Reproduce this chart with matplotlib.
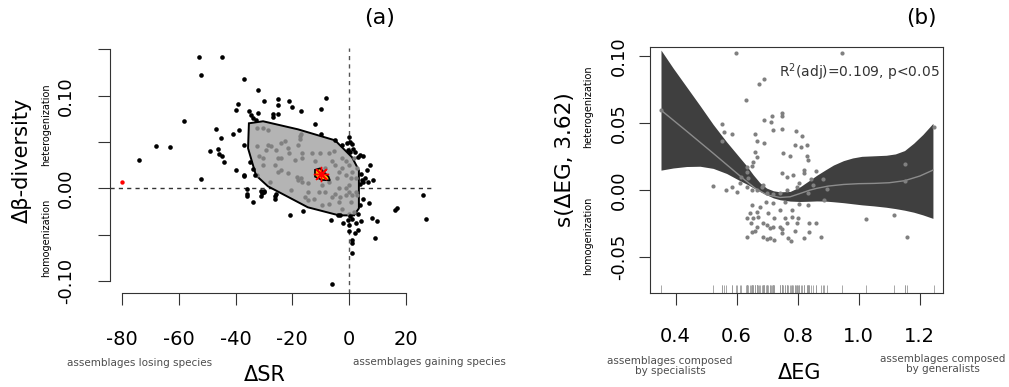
import numpy as np
import matplotlib
matplotlib.use("Agg")
import matplotlib.pyplot as plt

plt.rcParams['font.family'] = ['DejaVu Sans']

# ---------------- panel (a): bagplot of dSR vs d beta-diversity ----------------
# points outside the bag (black)
out_x = [-52.9, -44.9, -52.1, -37.0, -32.0, -58.1, -74.0, -68.1, -63.1, -52.1,
         -49.0, -46.1, -45.7, -44.1, -47.0, -45.0, -40.8, -40.0, -39.0, -38.9,
         -40.0, -36.9, -36.9, -30.0, -25.0, -25.1, -26.8, -26.9, -24.9, -21.1,
         -20.0, -16.9, -10.0, -8.1, -35.2, -34.7, -32.0, -34.0, -32.8, -36.1,
         -35.9, -34.0, -30.8, -30.0, -31.1, -26.0, -26.0, -20.9, -16.1, -6.0,
         -6.2, -3.9, -12.0, -9.9, 0.1, 0.35, -0.8, 0.95, -4.9, -2.6,
         -0.2, 0.35, 1.5, 2.1, 3.9, 5.0, 3.3, 7.4, 6.2, 4.1,
         5.6, 4.5, 8.4, 6.8, 3.9, 5.0, 26.2, 16.8, 16.2, 27.2,
         -2.0, 5.0, 7.1, 3.9, 3.3, 4.2, 0.35, -0.2, 0.1, 0.0,
         2.1, 3.3, 0.95, 1.2, 0.95, 8.0, 9.9, 9.2, -3.2, -44.9,
         -34.9, -33.7, -33.1, -36.1, -31.0, -29.9, -25.9, -36.9, 1.0, 2.5]
out_y = [0.1415, 0.1415, 0.122, 0.1177, 0.1058, 0.0727, 0.031, 0.0457, 0.0446, 0.0105,
         0.040, 0.0424, 0.0375, 0.0284, 0.0645, 0.054, 0.059, 0.0842, 0.091, 0.0634,
         0.0202, 0.014, 0.0464, 0.0943, 0.0961, 0.0896, 0.0799, 0.077, 0.0807, 0.0943,
         0.0878, 0.0832, 0.0856, 0.098, 0.0832, 0.0788, 0.0817, 0.0759, 0.0742, -0.0011,
         -0.0057, -0.0148, -0.0046, -0.0029, -0.0086, -0.0086, -0.0111, -0.0284, -0.0245, -0.1033,
         -0.0346, -0.0292, 0.0699, 0.0583, 0.0555, 0.050, 0.0489, 0.0482, 0.0518, 0.0464,
         0.041, 0.0392, 0.0428, 0.0392, 0.0356, 0.0346, 0.0338, 0.0248, 0.0202, 0.0151,
         0.0115, 0.0086, 0.0086, 0.0068, 0.0051, 0.0068, -0.0068, -0.0209, -0.0230, -0.0335,
         -0.0375, -0.0111, -0.0155, -0.0184, -0.0281, -0.0353, -0.0302, -0.0338, -0.0400, -0.0461,
         -0.0479, -0.0446, -0.0562, -0.0587, -0.0699, -0.0317, -0.0353, -0.0533, -0.0292, 0.0346,
         0.0284, 0.0213, 0.0140, -0.0086, -0.0029, -0.0040, -0.0057, 0.0137, -0.033, -0.037]

# points inside the bag (grey)
in_x = [-32.4, -30.4, -28.4, -27.4, -25.6, -25.0, -23.9, -22.7, -21.5, -21.2,
        -25.0, -26.2, -21.5, -18.5, -17.9, -16.9, -16.7, -14.3, -15.5, -14.3,
        -11.9, -13.1, -10.1, -7.2, -6.0, -5.4, -4.8, -3.6, -2.4, -1.2,
        -1.2, 0.0, 0.6, 1.2, 2.4, 0.0, -1.2, -3.6, -4.8, -6.0,
        -3.0, -1.2, 0.0, 1.2, 2.4, 0.6, -3.6, -7.2, -9.5, -14.3,
        -17.3, -17.3, -16.9, -17.9, -32.4, -31.6, -28.0, -23.9, -19.1, -16.7,
        -10.7, -8.3, -7.2, -9.5, 3.0, 1.8, 0.0, -2.4, -4.2, 0.0,
        1.8, 3.0, -2.4, -8.3, -16.7, -23.9, -29.2, -30.4, -20.3, -12.5,
        -30.4, -28.4, -32.4]
in_y = [0.0455, 0.0327, 0.0473, 0.0455, 0.0418, 0.0327, 0.0491, 0.0509, 0.0436, 0.0382,
        0.0181, 0.0254, 0.0163, 0.0126, 0.0090, 0.0108, 0.0072, 0.0053, -0.0093, -0.0129,
        0.0290, 0.0382, 0.0382, 0.0382, 0.0290, 0.0400, 0.0254, 0.0181, 0.0217, 0.0290,
        0.0144, 0.0254, 0.0108, 0.0181, 0.0108, 0.0035, -0.0001, -0.0001, -0.0056, -0.0093,
        -0.0093, -0.0074, -0.0038, -0.0074, -0.0038, -0.0147, -0.0147, -0.0166, -0.0184, -0.0038,
        0.0564, 0.0528, 0.0582, 0.0473, 0.0145, 0.0345, 0.0072, 0.0199, 0.0309, 0.0382,
        -0.0038, -0.0038, 0.0072, 0.0035, -0.0074, -0.0257, -0.0275, -0.0220, 0.0108, 0.0418,
        0.0327, 0.0217, 0.0327, 0.0217, 0.0327, 0.0327, 0.0418, 0.0254, -0.0020, -0.0111,
        0.0655, 0.0626, 0.0655]

outlier_x = [-80.0]
outlier_y = [0.0068]

bag_x = [-35.3, -30.3, -18.0, -4.9, 1.1, 3.5, 3.5, 3.5, 1.8, -3.5, -14.5, -28.6, -32.8, -35.6]
bag_y = [0.0702, 0.0724, 0.0637, 0.0518, 0.0335, 0.0194, -0.002, -0.0216, -0.0292, -0.0292,
         -0.0205, 0.0022, 0.014, 0.0432]

center_poly_x = [-12.0, -10.2, -7.2, -6.7, -9.6, -12.0]
center_poly_y = [0.020, 0.0216, 0.0126, 0.0086, 0.009, 0.0126]
center_x, center_y = -10.0, 0.0150

# ---------------- panel (b): GAM smooth of dEG ----------------
fit_x = [0.352, 0.436, 0.523, 0.589, 0.627, 0.660, 0.698, 0.742, 0.775, 0.808,
         0.840, 0.862, 0.900, 0.950, 1.000, 1.050, 1.100, 1.150, 1.200, 1.243]
fit_y = [0.0597, 0.0440, 0.0275, 0.0148, 0.0075, 0.0015, -0.0035, -0.0055, -0.0050, -0.0025,
         0.0000, 0.0013, 0.0030, 0.0042, 0.0048, 0.0050, 0.0055, 0.0070, 0.0105, 0.0149]

band_x = [0.352, 0.392, 0.436, 0.480, 0.523, 0.567, 0.611, 0.633, 0.654, 0.676,
          0.698, 0.720, 0.742, 0.775, 0.808, 0.840, 0.862, 0.890, 0.917, 0.950,
          0.980, 1.010, 1.050, 1.090, 1.120, 1.150, 1.180, 1.210, 1.243]
band_hi = [0.1045, 0.0910, 0.0770, 0.0630, 0.0490, 0.0360, 0.0240, 0.0180, 0.0115, 0.0055,
           0.0015, -0.0005, -0.0013, -0.0010, 0.0025, 0.0075, 0.0110, 0.0150, 0.0187, 0.0220,
           0.0240, 0.0252, 0.0256, 0.0260, 0.0270, 0.0295, 0.0350, 0.0415, 0.0498]
band_lo = [0.0149, 0.0165, 0.0176, 0.0178, 0.0162, 0.0124, 0.0070, 0.0045, 0.0018, -0.0010,
           -0.0035, -0.0058, -0.0072, -0.0082, -0.0085, -0.0083, -0.0081, -0.0082, -0.0087, -0.0094,
           -0.0102, -0.0110, -0.0118, -0.0128, -0.0138, -0.0150, -0.0165, -0.0185, -0.0211]

eg_x = [0.597, 0.946, 0.690, 0.674, 0.630, 0.748, 0.748, 0.690, 0.717, 0.712,
        0.553, 0.720, 0.748, 0.559, 0.584, 0.794, 0.814, 0.659, 0.551, 0.666,
        0.690, 0.791, 0.831, 0.811, 0.660, 0.753, 0.666, 0.829, 0.775, 0.833,
        0.654, 0.633, 0.649, 0.822, 0.822, 0.748, 0.860, 0.633, 0.786, 0.764,
        0.613, 0.638, 0.844, 0.884, 1.153, 1.153, 1.245, 0.352, 0.521, 0.565,
        0.584, 0.600, 0.611, 0.633, 0.649, 0.666, 0.682, 0.698, 0.720, 0.742,
        0.764, 0.797, 0.804, 0.835, 0.851, 0.886, 0.895, 0.835, 0.804, 0.758,
        0.720, 0.695, 0.649, 0.677, 0.742, 0.780, 0.644, 0.666, 0.704, 0.633,
        0.654, 0.671, 0.722, 0.758, 0.780, 0.800, 0.646, 0.666, 0.687, 0.709,
        0.742, 0.764, 0.797, 0.838, 0.860, 0.698, 0.720, 0.748, 0.635, 0.649,
        0.660, 0.685, 0.698, 0.709, 0.722, 0.748, 0.769, 0.777, 0.791, 0.822,
        0.838, 0.876, 1.024, 1.117, 1.157, 0.687]
eg_y = [0.102, 0.102, 0.0828, 0.0789, 0.0672, 0.0572, 0.0552, 0.0522, 0.0552, 0.051,
        0.049, 0.0448, 0.0453, 0.0435, 0.0418, 0.044, 0.0403, 0.0418, 0.0368, 0.0366,
        0.0348, 0.0339, 0.0339, 0.0318, 0.0286, 0.0279, 0.0249, 0.0254, 0.0254, 0.0224,
        0.0211, 0.0174, 0.0179, 0.0149, 0.0129, 0.0124, 0.0144, 0.0137, 0.0112, 0.0099,
        0.0099, 0.0087, 0.008, 0.008, 0.0194, 0.0069, 0.0472, 0.0597, 0.0032, 0.0,
        0.002, -0.0017, 0.005, 0.0025, 0.0, 0.0, 0.0025, -0.0025, -0.003, -0.0025,
        0.0, 0.0025, 0.005, -0.0025, 0.0037, -0.0075, 0.0005, -0.0112, -0.0105, -0.0087,
        -0.0095, -0.0087, -0.0112, -0.0124, -0.0149, -0.0149, -0.0169, -0.0162, -0.0174, -0.0211,
        -0.0211, -0.0199, -0.0211, -0.0206, -0.0199, -0.0211, -0.0249, -0.0274, -0.0249, -0.0286,
        -0.0274, -0.0249, -0.0249, -0.0244, -0.0244, -0.0262, -0.0274, -0.0293, -0.0349, -0.0311,
        -0.0306, -0.0349, -0.0366, -0.0361, -0.0373, -0.0323, -0.0361, -0.0378, -0.0306, -0.0361,
        -0.0316, -0.0353, -0.0219, -0.0187, -0.0349, 0.0037]

W, H = 1009, 387
fig = plt.figure(figsize=(W / 100, H / 100), dpi=100)

def px(x, y):
    return x / W, 1 - y / H

axis_col = '#333333'

# ---------- (a) ----------
ax = fig.add_axes([110 / W, (H - 293) / H, (432.6 - 110) / W, (293 - 48) / H])
ax.set_xlim(-84.3, 29.5)
ax.set_ylim(-0.113, 0.1515)
ax.axhline(0, color='#333333', lw=1, ls=(0, (3, 3)), zorder=1)
ax.axvline(0, color='#555555', lw=1, ls=(0, (3, 3)), zorder=1)
ax.fill(bag_x, bag_y, facecolor='#b4b4b4', edgecolor='black', lw=1.4, zorder=2)
ax.scatter(in_x, in_y, s=10, color='#808080', lw=0, zorder=3)
ax.scatter(out_x, out_y, s=11, color='black', lw=0, zorder=3)
ax.scatter(outlier_x, outlier_y, s=10, color='red', lw=0, zorder=3)
ax.fill(center_poly_x, center_poly_y, facecolor='orange', edgecolor='black', lw=1.2, zorder=4)
ax.plot([center_x], [center_y], marker=(8, 2, 0), ms=11, color='red', mew=1, ls='none', zorder=5)

for s in ['top', 'right']:
    ax.spines[s].set_visible(False)
ax.spines['left'].set_bounds(-0.10, 0.15)
ax.spines['bottom'].set_bounds(-80, 20)
for s in ['left', 'bottom']:
    ax.spines[s].set_color(axis_col)
ax.set_xticks([-80, -60, -40, -20, 0, 20])
ax.set_xticklabels(['-80', '-60', '-40', '-20', '0', '20'], fontsize=14)
ax.set_yticks([-0.10, -0.05, 0.0, 0.05, 0.10, 0.15])
ax.set_yticklabels(['-0.10', '', '0.00', '', '0.10', ''], fontsize=13, rotation=90, va='center')
ax.tick_params(axis='x', length=8.5, pad=18, color=axis_col)
ax.tick_params(axis='y', length=9, pad=16, color=axis_col)

fig.text(*px(380, 18), '(a)', fontsize=16, ha='center', va='center')
fig.text(*px(22, 160), 'Δβ-diversity', fontsize=15, rotation=90, ha='center', va='center')
fig.text(*px(46, 125), 'heterogenization', fontsize=7, rotation=90, ha='center', va='center')
fig.text(*px(46, 238), 'homogenization', fontsize=7, rotation=90, ha='center', va='center')
fig.text(*px(265, 375), 'ΔSR', fontsize=15, ha='center', va='center')
fig.text(*px(140, 363), 'assemblages losing species', fontsize=7.5, color='#4d4d4d',
         ha='center', va='center')
fig.text(*px(353, 362), 'assemblages gaining species', fontsize=7.5, color='#4d4d4d',
         ha='left', va='center')

# ---------- (b) ----------
bx = fig.add_axes([650 / W, (H - 293) / H, (943 - 650) / W, (293 - 47) / H])
bx.set_xlim(0.316, 1.276)
bx.set_ylim(-0.0768, 0.1068)
bx.fill_between(band_x, band_lo, band_hi, color='#3f3f3f', lw=0, zorder=2)
bx.plot(fit_x, fit_y, color='#8c8c8c', lw=1, zorder=3)
bx.scatter(eg_x, eg_y, s=9, color='#808080', lw=0, zorder=4)
bx.vlines(eg_x, -0.0768, -0.0708, color='#9a9a9a', lw=0.6, zorder=1)
for s in bx.spines.values():
    s.set_color(axis_col)
bx.set_xticks([0.4, 0.6, 0.8, 1.0, 1.2])
bx.set_xticklabels(['0.4', '0.6', '0.8', '1.0', '1.2'], fontsize=14)
bx.set_yticks([-0.05, 0.0, 0.05, 0.10])
bx.set_yticklabels(['-0.05', '0.00', '0.05', '0.10'], fontsize=13, rotation=90, va='center')
bx.tick_params(axis='x', length=8.5, pad=16, color=axis_col)
bx.tick_params(axis='y', length=8, pad=8, color=axis_col)
bx.text(0.99, 0.898, 'R$^2$(adj)=0.109, p<0.05', transform=bx.transAxes, fontsize=10,
        color='#333333', ha='right', va='center')

fig.text(*px(921, 18), '(b)', fontsize=15.5, ha='center', va='center')
fig.text(*px(565, 160), 's(ΔEG, 3.62)', fontsize=15.5, rotation=90, ha='center', va='center')
fig.text(*px(588, 107), 'heterogenization', fontsize=7, rotation=90, ha='center', va='center')
fig.text(*px(588, 236), 'homogenization', fontsize=7, rotation=90, ha='center', va='center')
fig.text(*px(800, 373), 'ΔEG', fontsize=15, ha='center', va='center')
fig.text(*px(670, 366), 'assemblages composed\nby specialists', fontsize=7.5, color='#4d4d4d',
         ha='center', va='center', linespacing=1.1)
fig.text(*px(943, 364), 'assemblages composed\nby generalists', fontsize=7.5, color='#4d4d4d',
         ha='center', va='center', linespacing=1.1)

fig.savefig('out.png', dpi=100)
